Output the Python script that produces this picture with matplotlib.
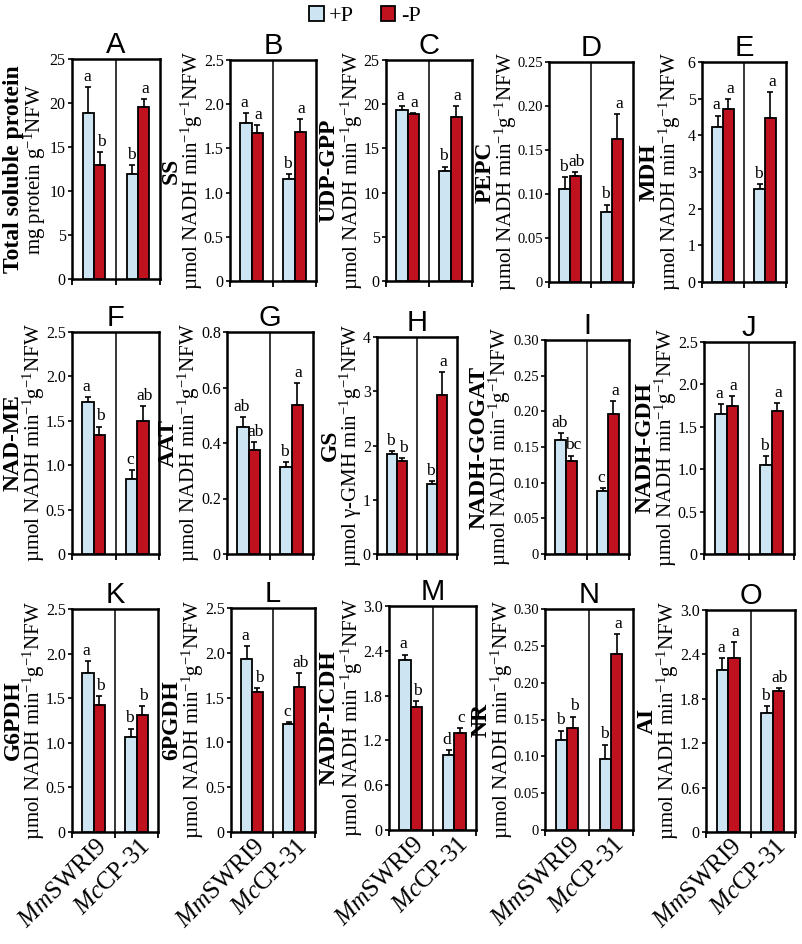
import numpy as np
import matplotlib
matplotlib.use('Agg')
import matplotlib.pyplot as plt
from matplotlib.patches import Patch
from matplotlib.transforms import ScaledTranslation

plt.rcParams['font.family'] = 'Liberation Serif'
plt.rcParams['mathtext.fontset'] = 'custom'
plt.rcParams['mathtext.rm'] = 'Liberation Serif'
plt.rcParams['mathtext.it'] = 'Liberation Serif:italic'
plt.rcParams['mathtext.bf'] = 'Liberation Serif:bold'

# Data -------------------------------------------------------------------------
panel_ids = list('ABCDEFGHIJKLMNO')
genotypes = [r'$\mathit{Mm}$SWRI9', r'$\mathit{Mc}$CP-31']
enzymes = ['Total soluble protein', 'SS', 'UDP-GPP', 'PEPC', 'MDH',
           'NAD-ME', 'AAT', 'GS', 'NADH-GOGAT', 'NADH-GDH',
           'G6PDH', '6PGDH', 'NADP-ICDH', 'NR', 'AI']
nadh = r'µmol NADH min$^{-1}$g$^{-1}$NFW'
units = ([r'mg protein g$^{-1}$NFW'] + [nadh] * 6
         + [r'µmol γ-GMH min$^{-1}$g$^{-1}$NFW'] + [nadh] * 7)
y_max = [25, 2.5, 25, 0.25, 6, 2.5, 0.8, 4, 0.30, 2.5, 2.5, 2.5, 3.0, 0.30, 3.0]
y_step = [5, 0.5, 5, 0.05, 1, 0.5, 0.2, 1, 0.05, 0.5, 0.5, 0.5, 0.6, 0.05, 0.6]
y_dec = [0, 1, 0, 2, 0, 1, 1, 0, 2, 1, 1, 1, 1, 2, 1]

# [MmSWRI9, McCP-31]
plus_mean = [[18.9, 11.9], [1.79, 1.15], [19.4, 12.4], [0.106, 0.080],
             [4.24, 2.53], [1.71, 0.85], [0.459, 0.315], [1.85, 1.29],
             [0.160, 0.089], [1.65, 1.05], [1.78, 1.06], [1.93, 1.20],
             [2.28, 1.01], [0.122, 0.096], [2.19, 1.61]]
plus_err = [[2.9, 1.0], [0.11, 0.06], [0.35, 0.55], [0.013, 0.008],
            [0.30, 0.15], [0.06, 0.10], [0.036, 0.018], [0.04, 0.05],
            [0.009, 0.004], [0.12, 0.10], [0.14, 0.10], [0.15, 0.03],
            [0.07, 0.06], [0.013, 0.02], [0.16, 0.09]]
minus_mean = [[13.0, 19.5], [1.67, 1.68], [18.9, 18.5], [0.121, 0.163],
              [4.71, 4.47], [1.34, 1.50], [0.375, 0.537], [1.71, 2.93],
              [0.130, 0.196], [1.75, 1.69], [1.42, 1.31], [1.56, 1.62],
              [1.65, 1.30], [0.139, 0.239], [2.35, 1.90]]
minus_err = [[1.4, 0.9], [0.09, 0.15], [0.15, 1.3], [0.004, 0.028],
             [0.27, 0.72], [0.095, 0.17], [0.03, 0.08], [0.06, 0.42],
             [0.008, 0.018], [0.11, 0.09], [0.10, 0.10], [0.05, 0.15],
             [0.08, 0.06], [0.015, 0.027], [0.22, 0.05]]
plus_sig = [['a', 'b'], ['a', 'b'], ['a', 'b'], ['b', 'b'], ['a', 'b'],
            ['a', 'c'], ['ab', 'b'], ['b', 'b'], ['ab', 'c'], ['a', 'b'],
            ['a', 'b'], ['a', 'c'], ['a', 'd'], ['b', 'b'], ['a', 'b']]
minus_sig = [['b', 'a'], ['a', 'a'], ['a', 'a'], ['ab', 'a'], ['a', 'a'],
             ['b', 'ab'], ['ab', 'a'], ['b', 'a'], ['bc', 'a'], ['a', 'a'],
             ['b', 'b'], ['b', 'ab'], ['b', 'c'], ['b', 'a'], ['a', 'ab']]

c_plus = '#cde5f3'
c_minus = '#c0111f'

# Layout (px, from top-left) ---------------------------------------------------
W, H = 802, 944
ax_left = [72, 230, 386, 549, 702, 72, 227, 377, 545, 704, 72, 231, 389, 545, 706]
ax_width = [88, 86, 86, 84, 84, 87, 86, 80, 84, 90, 86, 84, 87, 88, 89]
ax_top = [59, 60, 60, 62, 62, 332, 332, 337, 340, 342, 609, 608, 606, 609, 610]
ax_bottom = [279, 281, 281, 282, 282, 554, 554, 554, 554, 554,
             832, 832, 830, 830, 832]
# distance of bold label / units line centre from the left spine
off_bold = [58, 59, 57, 64, 53, 59, 59, 47, 66, 59, 59, 59, 60, 64, 59]
off_unit = [37, 38, 34, 43, 32, 38, 38, 26, 45, 38, 38, 38, 37, 43, 38]
bar_w = 0.26

fig = plt.figure(figsize=(W / 100, H / 100), dpi=100)

for i, pid in enumerate(panel_ids):
    left, top = ax_left[i], ax_top[i]
    h = ax_bottom[i] - top
    ax = fig.add_axes([left / W, 1 - ax_bottom[i] / H, ax_width[i] / W, h / H])
    x = np.arange(2) + 0.5
    ax.bar(x - bar_w / 2, plus_mean[i], bar_w, color=c_plus,
           edgecolor='black', linewidth=1.3, zorder=3)
    ax.bar(x + bar_w / 2, minus_mean[i], bar_w, color=c_minus,
           edgecolor='black', linewidth=1.3, zorder=3)
    for xs, m, e, s, dx in [
            (x - bar_w / 2, plus_mean[i], plus_err[i], plus_sig[i], -1),
            (x + bar_w / 2, minus_mean[i], minus_err[i], minus_sig[i], 1)]:
        ax.errorbar(xs, m, yerr=[[0, 0], e], fmt='none', ecolor='black',
                    elinewidth=1.2, capsize=2.2, capthick=1.2, zorder=2)
        for k in range(2):
            ax.annotate(s[k], (xs[k], m[k] + e[k]), xytext=(dx, 1.5),
                        textcoords='offset points', ha='center', va='bottom',
                        fontsize=12.5)
    ax.axvline(1, color='black', lw=1.1, zorder=4)
    ax.set_xlim(0, 2)
    ax.set_ylim(0, y_max[i])
    ticks = np.arange(0, y_max[i] + y_step[i] / 2, y_step[i])
    labels = ['0' if t == 0 else f'{t:.{y_dec[i]}f}' for t in ticks]
    fs = 10.5 if y_dec[i] == 2 else 11.5
    ax.set_yticks(ticks)
    ax.set_yticklabels(labels, fontsize=fs)
    ax.set_xticks([0, 1, 2])
    ax.set_xticklabels([])
    ax.tick_params(axis='y', direction='out', length=3, width=1.2, pad=1.5)
    ax.tick_params(axis='x', which='major', direction='out', length=4, width=1.3)
    if i >= 10:
        ax.set_xticks(x, minor=True)
        ax.set_xticklabels(genotypes, minor=True, fontsize=18, rotation=45,
                           ha='right', va='center', rotation_mode='anchor')
        ax.tick_params(axis='x', which='minor', length=0, pad=6)
        shift = ScaledTranslation(0.10, -0.03, fig.dpi_scale_trans)
        for lab in ax.get_xticklabels(minor=True):
            lab.set_transform(lab.get_transform() + shift)
    for sp in ax.spines.values():
        sp.set_linewidth(1.8)
    ax.set_title(pid, fontsize=21, family='Liberation Sans', pad=4)

    yc = 1 - (top + h / 2) / H
    fig.text((left - off_bold[i]) / W, yc, enzymes[i], rotation=90,
             ha='center', va='center', fontsize=17, fontweight='bold')
    fig.text((left - off_unit[i]) / W, yc, units[i], rotation=90,
             ha='center', va='center', fontsize=15)

handles = [Patch(facecolor=c_plus, edgecolor='black', linewidth=1.3, label='+P'),
           Patch(facecolor=c_minus, edgecolor='black', linewidth=1.3, label='-P')]
fig.legend(handles=handles, loc='center', bbox_to_anchor=(365 / W, 1 - 16 / H),
           ncol=2, frameon=False, handlelength=0.65, handleheight=0.7,
           handletextpad=0.25, columnspacing=1.2, fontsize=16)

fig.savefig('out.png', dpi=100)
